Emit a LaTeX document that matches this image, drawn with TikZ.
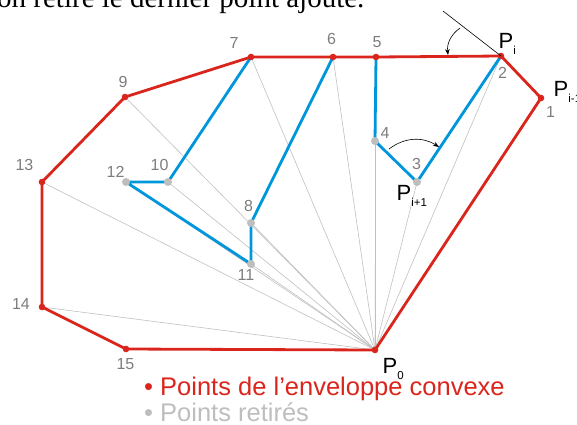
\documentclass[tikz,border=0pt]{standalone}
\usepackage{fontspec}
\setmainfont{Liberation Sans}
\newfontfamily\seriffont{Liberation Serif}
\usetikzlibrary{arrows.meta}
\definecolor{hullred}{RGB}{218,37,29}
\definecolor{bluepath}{RGB}{0,150,220}
\definecolor{raygray}{RGB}{192,192,192}
\definecolor{dotgray}{RGB}{190,190,190}
\definecolor{lblgray}{RGB}{125,125,125}
\newcommand{\Plab}[1]{P\raisebox{-6pt}{\fontsize{11.5}{11.5}\selectfont #1}}
\begin{document}
\begin{tikzpicture}[x=1pt,y=-1pt,
  ray/.style={draw=raygray,line width=0.6pt},
  hull/.style={draw=hullred,line width=2.8pt,line join=round},
  bluep/.style={draw=bluepath,line width=2.8pt,line join=round},
  hdot/.style={fill=hullred},
  gdot/.style={fill=dotgray},
  numlbl/.style={text=lblgray,inner sep=0pt,font=\fontsize{16}{16}\selectfont},
  plbl/.style={text=black,inner sep=0pt,anchor=base west,font=\fontsize{22}{22}\selectfont},
  tang/.style={draw=black,line width=0.6pt},
  turn/.style={draw=black,line width=0.6pt,-{Stealth[length=6pt,width=4.5pt]}},
  legend/.style={inner sep=0pt,anchor=base west,font=\fontsize{25.5}{25.5}\selectfont}
]
\useasboundingbox (0,0) rectangle (577,424);
\clip (0,0) rectangle (577,424);

% top line of text, cut off
\node[inner sep=0pt,anchor=base west,font=\seriffont\fontsize{29}{29}\selectfont] (toptext) at (-3,7.5) {on retire le dernier point ajouté.};

% points
\coordinate (P0) at (375,350);
\coordinate (p1) at (541,98);
\coordinate (p2) at (501,56);
\coordinate (p3) at (417,182);
\coordinate (p4) at (375,141);
\coordinate (p5) at (376,57);
\coordinate (p6) at (333,57);
\coordinate (p7) at (251,57);
\coordinate (p8) at (251,223);
\coordinate (p9) at (125,97);
\coordinate (p10) at (168,182);
\coordinate (p11) at (251,264);
\coordinate (p12) at (126,182);
\coordinate (p13) at (42,182);
\coordinate (p14) at (42,307);
\coordinate (p15) at (126,349);

% rays from P0
\foreach \n in {p2,p3,p4,p5,p6,p7,p8,p9,p10,p11,p12,p13,p14}
  \draw[ray] (P0) -- (\n);

% removed path (blue)
\draw[bluep] (p2) -- (p3) -- (p4) -- (p5);
\draw[bluep] (p7) -- (p10) -- (p12) -- (p11) -- (p8) -- (p6);

% hull (red)
\draw[hull] (P0) -- (p1) -- (p2) -- (p5) -- (p6) -- (p7) -- (p9) -- (p13) -- (p14) -- (p15) -- cycle;

% dots
\foreach \n in {P0,p1,p2,p5,p6,p7,p9,p13,p14,p15}
  \fill[hdot] (\n) circle (3.3pt);
\foreach \n in {p3,p4,p8,p10,p11,p12}
  \fill[gdot] (\n) circle (4pt);

% number labels
\node[numlbl] (l1) at (550.5,112) {1};
\node[numlbl] (l2) at (502.5,72.5) {2};
\node[numlbl] (l3) at (416.5,163.5) {3};
\node[numlbl] (l4) at (385,132.5) {4};
\node[numlbl] (l5) at (377,42.5) {5};
\node[numlbl] (l6) at (331.5,39) {6};
\node[numlbl] (l7) at (234,43) {7};
\node[numlbl] (l8) at (248.5,206) {8};
\node[numlbl] (l9) at (123,81.5) {9};
\node[numlbl] (l10) at (159.5,164.5) {10};
\node[numlbl] (l11) at (246,274.5) {11};
\node[numlbl] (l12) at (115.5,171.5) {12};
\node[numlbl] (l13) at (24.5,164.5) {13};
\node[numlbl] (l14) at (21,304) {14};
\node[numlbl] (l15) at (125.5,364) {15};

% P labels
\node[plbl] (Pi) at (498.5,48) {\Plab{i}};
\node[plbl] (Pim) at (553.5,96) {\Plab{i-1}};
\node[plbl] (Pip) at (396.5,200) {\Plab{i+1}};
\node[plbl] (Pz) at (382.5,373) {\Plab{0}};

% tangent and turning arrows
\coordinate (t1) at (443,11);
\draw[tang] (t1) -- (p2);
\coordinate (a1s) at (460,28);
\coordinate (a1e) at (448,55);
\draw[turn] (a1s) to[bend right=30] (a1e);
\coordinate (a2s) at (389,149);
\coordinate (a2e) at (439,147);
\draw[turn] (a2s) to[bend left=35] (a2e);

% legend
\node[legend,text=hullred] (leg1) at (144,395.5) {\textbullet\ Points de l’enveloppe convexe};
\node[legend,text=dotgray] (leg2) at (144,421) {\textbullet\ Points retirés};
\end{tikzpicture}
\end{document}
